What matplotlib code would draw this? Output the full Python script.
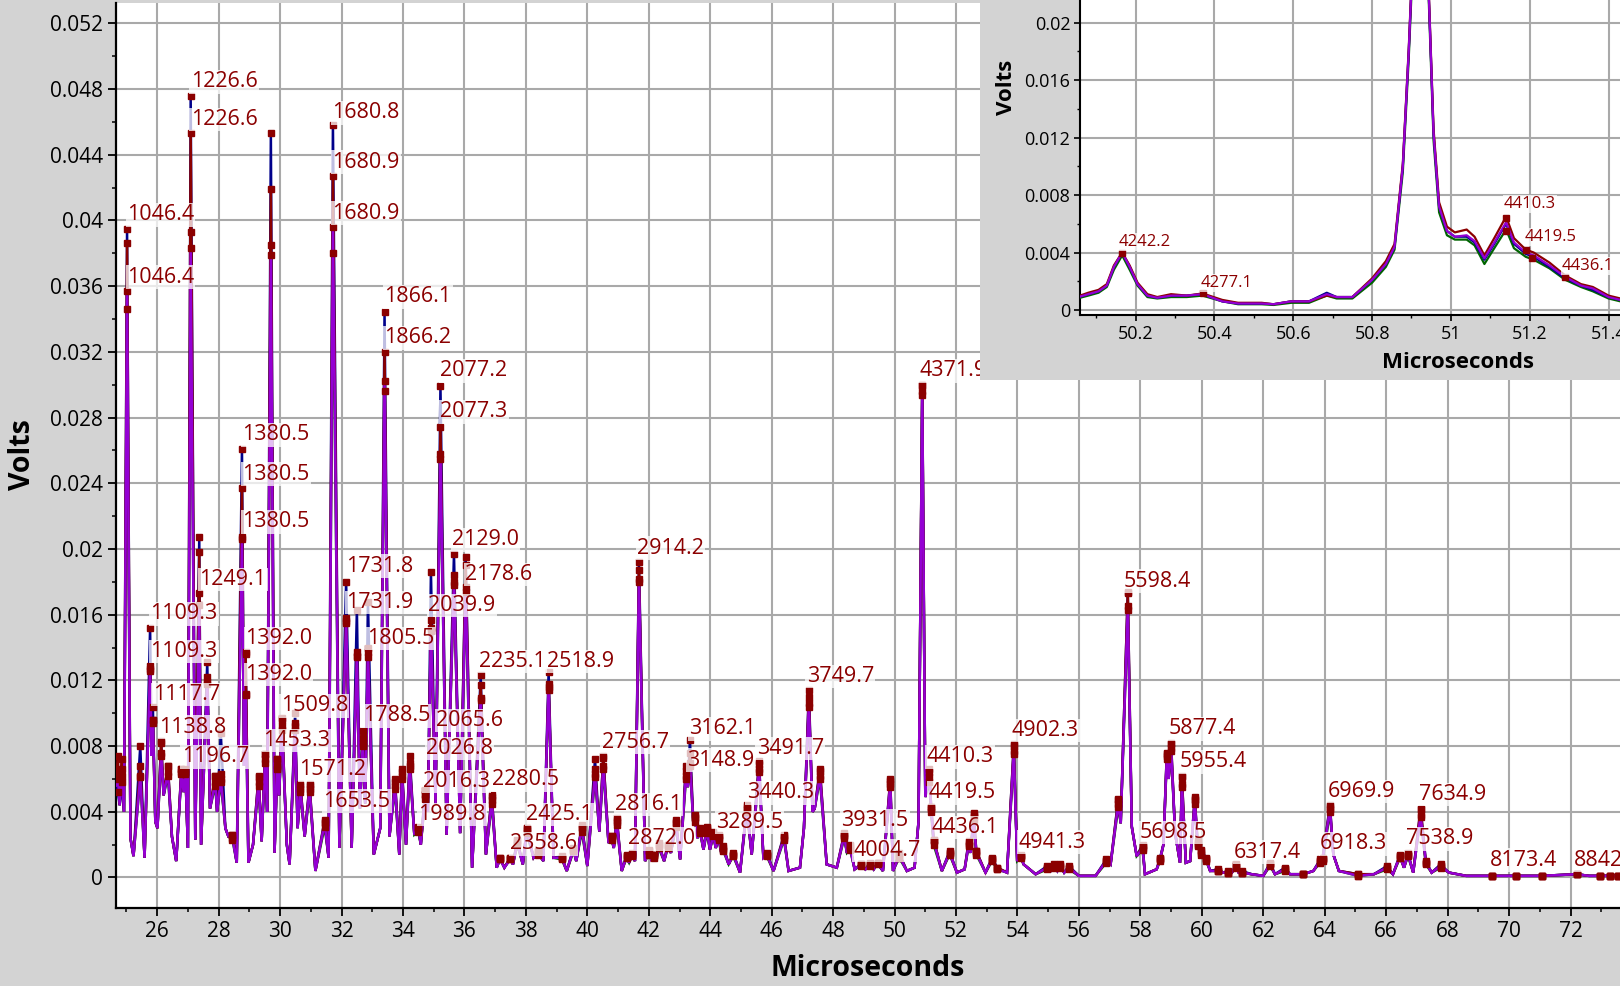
import matplotlib
matplotlib.use("Agg")
import matplotlib.pyplot as plt
from matplotlib.ticker import FixedLocator, MultipleLocator, FuncFormatter
import numpy as np

plt.rcParams['font.family'] = ['Open Sans', 'DejaVu Sans']

# ---------------- main spectrum data (Microseconds, Volts) ----------------
peak_x = [24.72, 24.84, 25.02, 25.45, 25.77, 25.86, 26.13, 26.35, 26.79, 26.92,
          27.09, 27.37, 27.63, 27.89, 28.07, 28.45, 28.76, 28.88, 29.30, 29.51,
          29.70, 29.91, 30.06, 30.49, 30.66, 30.96,
          31.45, 31.72, 32.15, 32.50, 32.69, 32.86, 33.40, 33.74, 33.97, 34.22,
          34.50, 34.72, 34.91, 35.22, 35.66, 36.04, 36.53, 36.89,
          37.16, 37.49, 37.72, 38.03, 38.40, 38.74, 39.17, 39.55, 39.82, 40.25,
          40.52, 40.79, 40.96, 41.28, 41.45, 41.68, 42.00, 42.18, 42.32, 42.62,
          42.88, 43.21, 43.34, 43.51, 43.67, 43.89, 44.10, 44.27, 44.43,
          44.75, 45.19, 45.59, 45.84, 46.40, 47.21, 47.57, 48.36, 48.55, 48.90,
          49.20, 49.45, 49.86, 50.15,
          50.90, 51.13, 51.19, 51.27, 51.79, 52.41, 52.57, 52.66, 53.17, 53.34,
          53.88, 54.10, 54.97, 55.20, 55.40, 55.67, 56.89,
          57.28, 57.59, 58.07, 58.64, 58.86, 59.00, 59.35, 59.77, 59.86, 59.97,
          60.14, 60.54, 60.86, 61.11, 61.30, 62.22, 62.71,
          63.30, 63.85, 63.93, 64.17, 65.09, 66.03, 66.45, 66.71, 67.12, 67.29,
          67.77, 69.43, 70.24, 71.06, 72.20, 72.96, 73.28, 73.55]

blue_tops = [.0052, .0058, .0395, .0080, .0152, .0104, .0083, .0068, .0066, .0066,
             .0476, .0207, .0131, .0062, .0088, .0026, .0261, .0137, .0062, .0075,
             .0453, .0072, .0097, .0100, .0057, .0057,
             .0035, .0458, .0180, .0163, .0089, .0168, .0344, .0060, .0066, .0074,
             .0031, .0053, .0186, .0299, .0197, .0195, .0123, .0050,
             .0012, .0012, .0023, .0030, .0016, .0125, .0013, .0018, .0032, .0072,
             .0074, .0025, .0036, .0014, .0015, .0192, .0017, .0014, .0021, .0020,
             .0035, .0068, .0084, .0038, .0030, .0031, .0028, .0026, .0019,
             .0015, .0044, .0071, .0015, .0026, .0114, .0066, .0027, .0020, .0008,
             .0009, .0009, .0060, .0015,
             .0300, .0066, .0043, .0023, .0016, .0022, .0039, .0016, .0012, .0006,
             .0081, .0014, .0007, .0008, .0008, .0007, .0011,
             .0048, .0174, .0020, .0012, .0076, .0082, .0062, .0049, .0022, .0017,
             .0012, .0005, .0004, .0008, .0004, .0009, .0006,
             .0002, .0011, .0012, .0044, .0002, .0007, .0014, .0015, .0042, .0010,
             .0008, .0001, .0001, .0001, .0002, .0001, .0001, .0001]

red_tops = [.0074, .0072, .0386, .0068, .0129, .0096, .0082, .0068, .0066, .0064,
            .0453, .0198, .0122, .0062, .0063, .0026, .0237, .0136, .0061, .0075,
            .0419, .0072, .0096, .0094, .0056, .0056,
            .0034, .0427, .0158, .0137, .0085, .0140, .0320, .0058, .0064, .0070,
            .0030, .0051, .0157, .0274, .0184, .0190, .0117, .0049,
            .0012, .0012, .0022, .0030, .0016, .0118, .0012, .0017, .0031, .0066,
            .0073, .0025, .0035, .0013, .0014, .0187, .0016, .0014, .0020, .0020,
            .0034, .0065, .0076, .0037, .0029, .0030, .0027, .0025, .0018,
            .0014, .0043, .0069, .0014, .0025, .0110, .0065, .0026, .0019, .0008,
            .0008, .0009, .0059, .0014,
            .0300, .0064, .0043, .0023, .0015, .0021, .0038, .0016, .0011, .0006,
            .0080, .0013, .0006, .0007, .0007, .0006, .0010,
            .0047, .0173, .0019, .0011, .0075, .0081, .0061, .0048, .0021, .0016,
            .0011, .0004, .0003, .0007, .0003, .0008, .0005,
            .0002, .0010, .0011, .0043, .0002, .0006, .0013, .0014, .0042, .0009,
            .0007, .0001, .0001, .0001, .0002, .0001, .0001, .0001]

green_tops = [.0060, .0062, .0346, .0061, .0126, .0094, .0074, .0062, .0063, .0063,
              .0393, .0173, .0118, .0056, .0058, .0023, .0206, .0111, .0056, .0070,
              .0385, .0066, .0090, .0090, .0052, .0052,
              .0031, .0380, .0155, .0134, .0080, .0134, .0296, .0054, .0060, .0066,
              .0028, .0048, .0150, .0255, .0178, .0174, .0108, .0045,
              .0011, .0011, .0020, .0027, .0014, .0114, .0011, .0016, .0028, .0061,
              .0066, .0023, .0032, .0012, .0013, .0180, .0014, .0012, .0018, .0018,
              .0031, .0060, .0068, .0034, .0027, .0027, .0025, .0023, .0016,
              .0013, .0040, .0064, .0013, .0023, .0104, .0060, .0024, .0017, .0007,
              .0007, .0008, .0055, .0012,
              .0294, .0058, .0040, .0020, .0014, .0019, .0035, .0014, .0010, .0005,
              .0075, .0012, .0005, .0006, .0006, .0005, .0009,
              .0043, .0163, .0017, .0010, .0072, .0077, .0055, .0045, .0019, .0014,
              .0010, .0004, .0003, .0006, .0003, .0007, .0004,
              .0002, .0009, .0010, .0040, .0001, .0005, .0012, .0013, .0037, .0008,
              .0006, .0001, .0001, .0001, .0002, .0001, .0001, .0001]

purple_tops = [.0062, .0066, .0357, .0062, .0127, .0096, .0076, .0064, .0064, .0064,
               .0383, .0166, .0119, .0058, .0060, .0024, .0207, .0112, .0058, .0072,
               .0379, .0068, .0092, .0092, .0054, .0054,
               .0033, .0396, .0156, .0135, .0082, .0137, .0302, .0056, .0062, .0068,
               .0030, .0050, .0152, .0258, .0180, .0177, .0109, .0047,
               .0011, .0011, .0021, .0029, .0015, .0116, .0012, .0017, .0030, .0063,
               .0068, .0024, .0034, .0013, .0014, .0182, .0016, .0013, .0020, .0019,
               .0033, .0062, .0070, .0036, .0028, .0029, .0026, .0024, .0017,
               .0014, .0042, .0066, .0014, .0024, .0106, .0062, .0025, .0018, .0008,
               .0008, .0009, .0057, .0013,
               .0296, .0061, .0042, .0022, .0015, .0020, .0037, .0015, .0011, .0005,
               .0077, .0013, .0006, .0007, .0007, .0006, .0010,
               .0045, .0165, .0018, .0011, .0074, .0079, .0057, .0047, .0020, .0015,
               .0011, .0004, .0003, .0007, .0003, .0008, .0005,
               .0002, .0010, .0011, .0042, .0001, .0006, .0013, .0014, .0038, .0009,
               .0007, .0001, .0001, .0001, .0002, .0001, .0001, .0001]

valley_x = [24.66, 24.78, 24.92, 25.13, 25.23, 25.59, 25.82, 25.94, 26.01, 26.21,
            26.48, 26.62, 26.86, 27.00, 27.24, 27.43, 27.72, 27.95, 28.22, 28.32,
            28.59, 28.83, 28.97, 29.12, 29.40, 29.58, 29.82, 29.97, 30.22, 30.31,
            30.57, 30.80, 31.15, 31.58, 31.93, 32.33, 32.60, 32.77, 33.05, 33.26,
            33.56, 33.88, 34.10, 34.37, 34.58, 34.81, 35.06, 35.42, 35.86, 36.25,
            36.70, 37.05, 37.30, 37.58, 37.90, 38.25, 38.57, 38.90, 39.33, 39.64,
            40.00, 40.39, 40.69, 40.86, 41.12, 41.36, 41.55, 41.88, 42.08, 42.24,
            42.50, 42.72, 43.02, 43.27, 43.45, 43.58, 43.78, 43.99, 44.18, 44.36,
            44.60, 44.97, 45.35, 45.73, 46.06, 46.55, 46.92, 47.05, 47.33, 47.40,
            47.79, 48.12, 48.45, 48.70, 49.05, 49.32, 49.62, 49.95, 50.40, 50.65,
            50.78, 51.00, 51.54, 52.03, 52.28, 52.48, 52.96, 53.66, 53.99, 54.20,
            54.59, 55.08, 55.30, 55.52, 56.00, 56.54, 57.03, 57.36, 57.72, 57.88,
            58.15, 58.53, 58.75, 58.92, 59.13, 59.29, 59.48, 59.62, 60.27, 60.70,
            60.98, 61.20, 61.62, 62.00, 62.38, 62.87, 63.63, 64.28, 64.46, 65.60,
            66.22, 66.58, 66.88, 67.48, 68.04, 68.60, 72.60, 73.61]
valley_y = [.0056, .0044, .0040, .0024, .0013, .0012, .0074, .0034, .0030, .0050,
            .0025, .0010, .0052, .0018, .0023, .0020, .0042, .0040, .0030, .0025,
            .0009, .0068, .0009, .0020, .0022, .0040, .0015, .0050, .0020, .0008,
            .0030, .0025, .0004, .0012, .0018, .0018, .0042, .0045, .0014, .0030,
            .0025, .0014, .0020, .0026, .0020, .0040, .0045, .0026, .0027, .0006,
            .0014, .0006, .0006, .0008, .0008, .0012, .0010, .0012, .0004, .0010,
            .0007, .0028, .0021, .0018, .0004, .0009, .0010, .0010, .0011, .0010,
            .0010, .0015, .0011, .0055, .0033, .0024, .0017, .0017, .0018, .0015,
            .0008, .0003, .0014, .0012, .0004, .0004, .0006, .0030, .0040, .0042,
            .0008, .0006, .0015, .0005, .0005, .0005, .0004, .0004, .0004, .0006,
            .0034, .0049, .0004, .0003, .0005, .0015, .0003, .0003, .0010, .0008,
            .0002, .0004, .0004, .0003, .0001, .0001, .0008, .0033, .0031, .0013,
            .0002, .0005, .0020, .0060, .0027, .0009, .0009, .0010, .0004, .0003,
            .0003, .0003, .0002, .0001, .0002, .0002, .0004, .0014, .0004, .0002,
            .0002, .0006, .0003, .0003, .0003, .0001, .0001, .0001]

label_text = ['1046.4', '1046.4', '1226.6', '1226.6', '1680.8', '1680.9', '1680.9',
              '1866.1', '1866.2', '2077.2', '2077.3', '1380.5', '1380.5', '1380.5',
              '1249.1', '1109.3', '1109.3', '1117.7', '1138.8', '1196.7', '1392.0',
              '1392.0', '1509.8', '1453.3', '1571.2', '1653.5', '1731.8', '1731.9',
              '1805.5', '1788.5', '2039.9', '2129.0', '2178.6', '2235.1', '2518.9',
              '2065.6', '2026.8', '2016.3', '1989.8', '2280.5', '2425.1', '2358.6',
              '2914.2', '2756.7', '2816.1', '2872.0', '3162.1', '3148.9', '3289.5',
              '3491.7', '3440.3', '3749.7', '3931.5', '4004.7', '4371.9', '4410.3',
              '4419.5', '4436.1', '4902.3', '4941.3', '5598.4', '5698.5', '5877.4',
              '5955.4', '6317.4', '6969.9', '6918.3', '7634.9', '7538.9', '8173.4',
              '8842.1']
label_x = [25.02, 25.02, 27.09, 27.09, 31.70, 31.70, 31.70, 33.40, 33.40, 35.22,
           35.22, 28.77, 28.77, 28.77, 27.37, 25.77, 25.77, 25.85, 26.07, 26.80,
           28.86, 28.86, 30.02, 29.46, 30.62, 31.41, 32.14, 32.14, 32.82, 32.69,
           34.83, 35.59, 36.02, 36.48, 38.70, 35.08, 34.75, 34.65, 34.50, 36.89,
           38.00, 37.49, 41.61, 40.47, 40.90, 41.32, 43.32, 43.24, 44.19, 45.51,
           45.19, 47.14, 48.26, 48.66, 50.80, 51.03, 51.09, 51.20, 53.80, 54.02,
           57.47, 57.99, 58.91, 59.29, 61.05, 64.09, 63.85, 67.07, 66.64, 69.36,
           72.11]
label_y = [0.0405, 0.0367, 0.0486, 0.0463, 0.0467, 0.0437, 0.0406, 0.0355, 0.0330,
           0.0310, 0.0285, 0.0271, 0.0247, 0.0218, 0.0183, 0.0162, 0.0139, 0.0113,
           0.0093, 0.0075, 0.0147, 0.0125, 0.0106, 0.0085, 0.0067, 0.0048, 0.0191,
           0.0169, 0.0147, 0.0100, 0.0167, 0.0207, 0.0186, 0.0133, 0.0133, 0.0097,
           0.0080, 0.0060, 0.0040, 0.0061, 0.0040, 0.0022, 0.0202, 0.0084, 0.0046,
           0.0025, 0.0092, 0.0073, 0.0035, 0.0080, 0.0053, 0.0124, 0.0036, 0.0018,
           0.0310, 0.0075, 0.0053, 0.0032, 0.0091, 0.0023, 0.0182, 0.0029, 0.0092,
           0.0072, 0.0017, 0.0054, 0.0022, 0.0052, 0.0025, 0.0012, 0.0012]

main_xticks = [26, 28, 30, 32, 34, 36, 38, 40, 42, 44, 46, 48, 50, 52, 54, 56, 58,
               60, 62, 64, 66, 68, 70, 72]
main_yticks = [0, 0.004, 0.008, 0.012, 0.016, 0.02, 0.024, 0.028, 0.032, 0.036,
               0.04, 0.044, 0.048, 0.052]

# ---------------- inset data ----------------
inset_x = [50.059, 50.08, 50.106, 50.127, 50.145, 50.166, 50.185, 50.205, 50.23,
           50.255, 50.29, 50.33, 50.37, 50.42, 50.46, 50.52, 50.55, 50.595, 50.64,
           50.685, 50.71, 50.75, 50.80, 50.835, 50.857, 50.878, 50.893, 50.91,
           50.925, 50.94, 50.956, 50.97, 50.99, 51.01, 51.04, 51.06, 51.085, 51.11,
           51.14, 51.16, 51.19, 51.21, 51.25, 51.29, 51.33, 51.36, 51.40, 51.43]
inset_purple = [.00093, .0011, .0013, .0017, .0030, .0040, .0030, .0018, .0010,
                .00085, .0010, .0010, .0011, .0006, .00045, .00045, .0004, .0006,
                .0006, .0011, .0009, .0009, .0021, .0032, .0044, .0100, .0180,
                .0290, .0300, .0250, .0123, .0072, .0055, .0051, .0052, .0048,
                .0036, .0047, .0061, .0047, .0040, .0038, .0031, .0023, .0017,
                .0015, .0009, .0007]
inset_red = [.0010, .0012, .0014, .0018, .0031, .0040, .0031, .0019, .0011,
             .0009, .0011, .0010, .00115, .0007, .0005, .0005, .0004, .0006,
             .0006, .0010, .0009, .0009, .0022, .0034, .0046, .0102, .0182,
             .0292, .0302, .0252, .0126, .0075, .0058, .0054, .0056, .0051,
             .0038, .0050, .0065, .0050, .0042, .0040, .0033, .0024, .0018,
             .0016, .0010, .0008]
inset_green = [.00085, .0010, .0012, .0016, .0028, .0038, .0028, .0017, .0009,
               .0008, .0009, .0009, .0010, .0006, .0004, .0004, .00035, .0005,
               .0005, .0010, .0008, .0008, .0019, .0030, .0042, .0096, .0175,
               .0285, .0296, .0246, .0118, .0068, .0052, .0049, .0049, .0045,
               .0032, .0043, .0056, .0043, .0037, .0035, .0029, .0021, .0016,
               .0013, .0008, .0006]
inset_blue = [.00093, .0011, .0013, .0017, .0030, .0040, .0030, .0018, .0010,
              .00085, .0010, .0010, .0011, .0006, .00045, .00045, .0004, .0006,
              .0006, .0012, .0009, .0009, .0021, .0032, .0044, .0100, .0180,
              .0290, .0300, .0250, .0123, .0072, .0055, .0051, .0051, .0047,
              .0035, .0046, .0060, .0046, .0039, .0037, .0030, .0022, .0017,
              .0014, .0009, .0007]
inset_mark_x = [50.166, 50.37, 51.14, 51.14, 51.19, 51.205, 51.29]
inset_mark_y = [0.0040, 0.00115, 0.0064, 0.0055, 0.0042, 0.0036, 0.0023]
inset_label_text = ['4242.2', '4277.1', '4410.3', '4419.5', '4436.1']
inset_label_x = [50.158, 50.365, 51.134, 51.188, 51.281]
inset_label_y = [0.0049, 0.0020, 0.0075, 0.0052, 0.0032]
inset_xticks = [50.2, 50.4, 50.6, 50.8, 51.0, 51.2, 51.4]
inset_yticks = [0, 0.004, 0.008, 0.012, 0.016, 0.02]

# ---------------- style ----------------
BG = '#d3d3d3'
GRID = '#a9a9a9'
C_BLUE = '#00008b'
C_RED = '#8b0000'
C_GREEN = '#006400'
C_PURPLE = '#9400d3'
W, H = 1620, 986


def fx(px):
    return px / W


def fy(py):
    return 1 - py / H


def fmt(v, _pos=None):
    return '{:g}'.format(round(v, 6))


def build(tops):
    xs = np.concatenate([np.asarray(valley_x), np.asarray(peak_x)])
    ys = np.concatenate([np.asarray(valley_y), np.asarray(tops)])
    order = np.argsort(xs, kind='stable')
    return xs[order], ys[order]


fig = plt.figure(figsize=(W / 100, H / 100), dpi=100, facecolor=BG)

# main axes
ax = fig.add_axes([fx(116), fy(908), fx(1620 - 116), (908 - 3) / H])
ax.set_facecolor('white')
ax.set_xlim(24.66, 73.61)
ax.set_ylim(-0.001857, 0.05324)

series = [(green_tops, C_GREEN), (blue_tops, C_BLUE), (red_tops, C_RED),
          (purple_tops, C_PURPLE)]
for tops, col in series:
    xs, ys = build(tops)
    ax.plot(xs, ys, color=col, lw=1.8, solid_joinstyle='miter', zorder=3)
for tops, col in series:
    ax.plot(peak_x, tops, 's', color=C_RED, ms=4.8, mec=C_RED, zorder=5,
            linestyle='none')

for t, x, y in zip(label_text, label_x, label_y):
    ax.text(x, y, t, color=C_RED, fontsize=15.5, ha='left', va='center_baseline',
            zorder=6, clip_on=True,
            bbox=dict(boxstyle='square,pad=0.06', fc='white', ec='none', alpha=0.75))

ax.xaxis.set_major_locator(FixedLocator(main_xticks))
ax.xaxis.set_minor_locator(MultipleLocator(1))
ax.yaxis.set_major_locator(FixedLocator(main_yticks))
ax.yaxis.set_minor_locator(MultipleLocator(0.002))
ax.xaxis.set_major_formatter(FuncFormatter(fmt))
ax.yaxis.set_major_formatter(FuncFormatter(fmt))
ax.grid(which='major', color=GRID, lw=1.5, zorder=0)
ax.set_axisbelow(True)
ax.tick_params(which='major', length=5.5, width=1.3, direction='out',
               labelsize=15, pad=4, colors='black')
ax.tick_params(which='minor', length=3, width=1.1, direction='out')
for s in ['top', 'right']:
    ax.spines[s].set_visible(False)
for s in ['left', 'bottom']:
    ax.spines[s].set_linewidth(1.6)
    ax.spines[s].set_color('black')

fig.text(fx(23), fy(455), 'Volts', rotation=90, ha='center', va='center',
         fontsize=20.5, fontweight='bold')
fig.text(fx(868), fy(968), 'Microseconds', ha='center', va='center',
         fontsize=20.5, fontweight='bold')

# inset background box
bg = fig.add_axes([fx(979.5), fy(380), fx(1620 - 979.5), 380 / H])
bg.set_facecolor(BG)
bg.set_xticks([])
bg.set_yticks([])
for s in bg.spines.values():
    s.set_visible(False)

ins = fig.add_axes([fx(1080), fy(315), fx(1620 - 1080), 315 / H])
ins.set_facecolor('white')
ins.set_xlim(50.059, 51.429)
ins.set_ylim(-0.00035, 0.02158)
for ys, col in [(inset_green, C_GREEN), (inset_blue, C_BLUE), (inset_red, C_RED),
                (inset_purple, C_PURPLE)]:
    ins.plot(inset_x, ys, color=col, lw=1.6, zorder=3)
ins.plot(inset_mark_x, inset_mark_y, 's', color=C_RED, ms=4.5, zorder=5,
         linestyle='none')
for t, x, y in zip(inset_label_text, inset_label_x, inset_label_y):
    ins.text(x, y, t, color=C_RED, fontsize=12, ha='left', va='center_baseline',
             zorder=6, clip_on=True,
             bbox=dict(boxstyle='square,pad=0.06', fc='white', ec='none', alpha=0.75))
ins.xaxis.set_major_locator(FixedLocator(inset_xticks))
ins.xaxis.set_minor_locator(MultipleLocator(0.1))
ins.yaxis.set_major_locator(FixedLocator(inset_yticks))
ins.yaxis.set_minor_locator(MultipleLocator(0.002))
ins.xaxis.set_major_formatter(FuncFormatter(fmt))
ins.yaxis.set_major_formatter(FuncFormatter(fmt))
ins.grid(which='major', color=GRID, lw=1.5, zorder=0)
ins.set_axisbelow(True)
ins.tick_params(which='major', length=4, width=1.2, direction='out',
                labelsize=13, pad=3)
ins.tick_params(which='minor', length=2.5, width=1.0, direction='out')
for s in ['top', 'right']:
    ins.spines[s].set_visible(False)
for s in ['left', 'bottom']:
    ins.spines[s].set_linewidth(1.5)

fig.text(fx(1007), fy(87), 'Volts', rotation=90, ha='center', va='center',
         fontsize=16, fontweight='bold')
fig.text(fx(1458), fy(363), 'Microseconds', ha='center', va='center',
         fontsize=16, fontweight='bold')

fig.savefig('out.png', dpi=100, facecolor=BG)
